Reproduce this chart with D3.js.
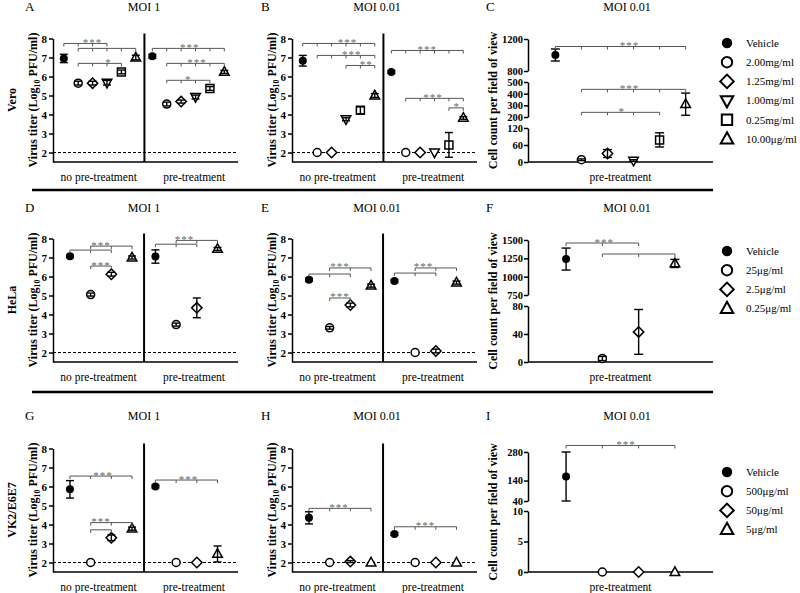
<!DOCTYPE html>
<html><head><meta charset="utf-8">
<script src="https://cdn.jsdelivr.net/npm/d3@7"></script>
<style>body{margin:0;background:#fff}svg{display:block}</style>
</head><body><svg id="c" width="800" height="593"></svg>
<script>
// ================= DATA =================
const rowNames = ["Vero", "HeLa", "VK2/E6E7"];
const panelLetters = ["A","B","C","D","E","F","G","H","I"];
const panelTitles = ["MOI 1","MOI 0.01","MOI 0.01","MOI 1","MOI 0.01","MOI 0.01","MOI 1","MOI 0.01","MOI 0.01"];
const treatments = ["no pre-treatment", "pre-treatment"];
const titerTicks = [2,3,4,5,6,7,8];

const veroLegend = ["Vehicle","2.00mg/ml","1.25mg/ml","1.00mg/ml","0.25mg/ml","10.00\u03bcg/ml"];
const helaLegend = ["Vehicle","25\u03bcg/ml","2.5\u03bcg/ml","0.25\u03bcg/ml"];
const vk2Legend  = ["Vehicle","500\u03bcg/ml","50\u03bcg/ml","5\u03bcg/ml"];
const sixShapes  = ["filled","circle","diamond","triDown","square","triUp"];
const fourShapes = ["filled","circle","diamond","triUp"];

// Panel A (Vero, MOI 1)
const aNoPreMean = [6.95, 5.65, 5.65, 5.67, 6.24, 7.00];
const aNoPreErr  = [0.22, 0.10, 0.10, 0.12, 0.10, 0.12];
const aPreMean   = [7.06, 4.55, 4.68, 4.92, 5.37, 6.24];
const aPreErr    = [0.10, 0.10, 0.08, 0.10, 0.10, 0.08];
// Panel B (Vero, MOI 0.01)
const bNoPreMean = [6.83, 2.00, 2.00, 3.75, 4.22, 5.00];
const bNoPreErr  = [0.28, 0, 0, 0.08, 0.18, 0.10];
const bPreMean   = [6.24, 2.00, 2.00, 2.00, 2.40, 3.82];
const bPreErr    = [0.07, 0, 0, 0, 0.65, 0.07];
// Panel C (Vero, cell count)
const cMean = [1000, 8, 30, 5, 78, 310];
const cErr  = [75, 3, 14, 3, 25, 95];
const cTicksLow = [0, 60, 120];
const cTicksMid = [200, 300, 400, 500];
const cTicksHigh = [800, 1200];
// Panel D (HeLa, MOI 1)
const dNoPreMean = [7.07, 5.05, 6.12, 7.00];
const dNoPreErr  = [0.08, 0.08, 0.10, 0.08];
const dPreMean   = [7.05, 3.47, 4.35, 7.45];
const dPreErr    = [0.35, 0.08, 0.52, 0.08];
// Panel E (HeLa, MOI 0.01)
const eNoPreMean = [5.83, 3.30, 4.50, 5.52];
const eNoPreErr  = [0.08, 0.07, 0.10, 0.08];
const ePreMean   = [5.76, 2.00, 2.08, 5.68];
const ePreErr    = [0.07, 0, 0.10, 0.08];
// Panel F (HeLa, cell count)
const fMean = [1240, 5, 43, 1180];
const fErr  = [150, 3, 32, 55];
const fTicksLow = [0, 40, 80];
const fTicksHigh = [750, 1000, 1250, 1500];
// Panel G (VK2/E6E7, MOI 1)
const gNoPreMean = [5.85, 2.00, 3.30, 3.78];
const gNoPreErr  = [0.46, 0, 0.15, 0.08];
const gPreMean   = [6.00, 2.00, 2.00, 2.45];
const gPreErr    = [0.07, 0, 0, 0.42];
// Panel H (VK2/E6E7, MOI 0.01)
const hNoPreMean = [4.35, 2.00, 2.05, 2.00];
const hNoPreErr  = [0.32, 0, 0.05, 0];
const hPreMean   = [3.50, 2.00, 2.00, 2.00];
const hPreErr    = [0.07, 0, 0, 0];
// Panel I (VK2/E6E7, cell count)
const iMean = [160, 0, 0, 0];
const iErr  = [120, 0, 0, 0];
const iTicksLow = [0, 5, 10];
const iTicksHigh = [40, 140, 280];

// significance brackets: [side(0 no-pre,1 pre), fromGroup, toGroup, level, label, labelGroup]
const aBrackets = [[0,0,3,7.74,"***",2],[0,1,5,7.48,"",0],[0,1,4,6.69,"*",3.1],
                   [1,0,5,7.48,"***",2.6],[1,1,5,6.69,"***",3.1],[1,1,4,5.8,"*",2.5]];
const bBrackets = [[0,0,5,7.74,"***",3.1],[0,1,5,7.11,"***",3.4],[0,3,5,6.58,"**",4.4],
                   [1,0,5,7.37,"***",2.5],[1,1,5,4.85,"***",2.9],[1,4,5,4.35,"*",4.55]];
const dBrackets = [[0,0,2,7.39,"",0],[0,1,3,7.6,"***",1.5],[0,1,2,6.55,"***",1.5],
                   [1,0,2,7.7,"",0],[1,1,3,7.9,"***",1.4]];
const eBrackets = [[0,0,2,6.13,"",0],[0,1,3,6.45,"***",1.5],[0,1,2,4.87,"***",1.5],
                   [1,0,2,6.18,"",0],[1,1,3,6.45,"***",1.4]];
const gBrackets = [[0,0,3,6.55,"***",1.6],[0,1,3,4.1,"***",1.5],[0,1,2,3.72,"",0],
                   [1,0,3,6.34,"***",1.6]];
const hBrackets = [[0,0,3,4.85,"***",1.45],[1,0,3,3.88,"***",1.5]];
const cBrackets = [[0,5,1106,"***",2.85],[1,5,437,"***",2.85],[1,4,240,"*",2.55]];
const fBrackets = [[0,2,1459,"***",1.05],[1,3,1309,"",0]];
const iBrackets = [[0,3,312,"***",1.65]];

// ================= DRAWING =================
const FONT = "'Liberation Serif','Times New Roman',Times,serif";
const svg = d3.select("#c");
const W = 185;
const rowBottom = [162, 362, 572];
const colX0 = [53, 292, 528];
const BR = "#555";

function marker(g, shape, x, y, s, sw) {
  if (shape === "filled") {
    g.append("circle").attr("cx", x).attr("cy", y).attr("r", s).attr("fill", "#000");
    return;
  }
  if (shape === "circle") {
    g.append("circle").attr("cx", x).attr("cy", y).attr("r", s)
      .attr("fill", "#fff").attr("stroke", "#000").attr("stroke-width", sw);
    return;
  }
  let pts;
  if (shape === "diamond") pts = [[0,-1.3],[1.3,0],[0,1.3],[-1.3,0]];
  else if (shape === "triUp") pts = [[0,-1.3],[1.2,0.85],[-1.2,0.85]];
  else if (shape === "triDown") pts = [[0,1.3],[1.2,-0.85],[-1.2,-0.85]];
  else pts = [[-1,-1],[1,-1],[1,1],[-1,1]];
  g.append("path")
    .attr("d", "M" + pts.map(p => [x + p[0]*s, y + p[1]*s].join(",")).join("L") + "Z")
    .attr("fill", "#fff").attr("stroke", "#000").attr("stroke-width", sw);
}

function errBar(g, x, yTop, yBot, cap) {
  if (Math.abs(yBot - yTop) < 0.8) return;
  const l = (x1,y1,x2,y2) => g.append("line").attr("x1",x1).attr("y1",y1).attr("x2",x2).attr("y2",y2)
    .attr("stroke", "#000").attr("stroke-width", 1.4);
  l(x, yTop, x, yBot);
  l(x - cap/2, yTop, x + cap/2, yTop);
  l(x - cap/2, yBot, x + cap/2, yBot);
}

function bracket(g, xs, y, label, lx) {
  g.append("line").attr("x1", xs[0]).attr("x2", xs[xs.length-1]).attr("y1", y).attr("y2", y)
    .attr("stroke", BR).attr("stroke-width", 1);
  xs.forEach(xx => g.append("line").attr("x1", xx).attr("x2", xx).attr("y1", y).attr("y2", y + 3)
    .attr("stroke", BR).attr("stroke-width", 1));
  if (label) g.append("text").attr("x", lx).attr("y", y + 2.5).attr("text-anchor", "middle")
    .attr("font-family", FONT).attr("font-size", 11).attr("letter-spacing", 1).attr("fill", "#666").text(label);
}

function styleAxis(sel, fs) {
  sel.attr("font-family", FONT);
  sel.select(".domain").attr("stroke", "#000").attr("stroke-width", 1.5);
  sel.selectAll(".tick line").attr("stroke", "#000").attr("stroke-width", 1.5);
  sel.selectAll(".tick text").attr("font-family", FONT).attr("font-size", fs)
    .attr("font-weight", "bold").attr("fill", "#000");
}

function yTitle(g, x, y, parts, size) {
  const t = g.append("text").attr("transform", `translate(${x},${y}) rotate(-90)`)
    .attr("text-anchor", "middle").attr("font-family", FONT).attr("font-weight", "bold")
    .attr("font-size", size).attr("fill", "#000");
  parts.forEach(p => {
    const ts = t.append("tspan").text(p.t);
    if (p.sub) ts.attr("font-size", size * 0.65).attr("dy", 3);
    if (p.back) ts.attr("dy", -3);
  });
}

function titerPanel(x0, bottom, shapes, noPreMean, noPreErr, preMean, preErr, brackets) {
  const six = shapes.length === 6;
  const dom = six ? [-0.75, 12.1] : [-0.82, 8.12];
  const preOff = six ? 6.15 : 4.13;
  const divPos = six ? 5.6 : 3.58;
  const x = d3.scaleLinear().domain(dom).range([x0, x0 + W]);
  const y = d3.scaleLinear().domain([1.5, 8]).range([bottom, bottom - 123.5]);
  const g = svg.append("g");

  const ax = g.append("g").attr("transform", `translate(${x0},0)`)
    .call(d3.axisLeft(y).tickValues(titerTicks).tickSize(4).tickSizeOuter(0).tickPadding(2).tickFormat(d3.format("d")));
  styleAxis(ax, 11);
  g.append("line").attr("x1", x0).attr("x2", x0 + W).attr("y1", bottom).attr("y2", bottom)
    .attr("stroke", "#000").attr("stroke-width", 1.5);
  const xd = x(divPos);
  g.append("line").attr("x1", xd).attr("x2", xd).attr("y1", bottom).attr("y2", y(8) - 5)
    .attr("stroke", "#000").attr("stroke-width", 2);
  g.append("line").attr("x1", x0).attr("x2", x0 + W).attr("y1", y(2)).attr("y2", y(2))
    .attr("stroke", "#000").attr("stroke-width", 1.2).attr("stroke-dasharray", "3,2");

  g.append("text").attr("x", (x0 + xd) / 2).attr("y", bottom + 18.5).attr("text-anchor", "middle")
    .attr("font-family", FONT).attr("font-size", 11.5).text(treatments[0]);
  g.append("text").attr("x", (xd + x0 + W) / 2 + 3).attr("y", bottom + 18.5).attr("text-anchor", "middle")
    .attr("font-family", FONT).attr("font-size", 11.5).text(treatments[1]);

  const sides = [[noPreMean, noPreErr, 0], [preMean, preErr, preOff]];
  sides.forEach(([m, e, off]) => {
    m.forEach((v, i) => {
      const px = x(off + i), py = y(v);
      marker(g, shapes[i], px, py, 4, 1.5);
      errBar(g, px, y(v + e[i]), y(v - e[i]), 8);
    });
  });

  brackets.forEach(([side, a, b, lev, lab, lp]) => {
    const off = side ? preOff : 0;
    const xs = d3.range(a, b + 1).map(i => x(off + i));
    bracket(g, xs, y(lev), lab, x(off + lp));
  });
  yTitle(g, x0 - 16, bottom - 62, [{t: "Virus titer (Log"}, {t: "10", sub: true}, {t: " PFU/ml)", back: true}], 12);
}

function cellPanel(x0, bottom, shapes, mean, err, segs, brackets) {
  const g = svg.append("g");
  const n = shapes.length;
  const xp = d3.scalePoint().domain(d3.range(n)).range([x0, x0 + W]).padding(1.05);
  const xf = k => xp(0) + k * xp.step();
  const scales = segs.map(s => d3.scaleLinear().domain(s.domain).range(s.range));
  const seg = v => {
    for (let k = 0; k < segs.length; k++)
      if (v >= segs[k].domain[0] && v <= segs[k].domain[1]) return scales[k];
    return v > segs[segs.length - 1].domain[1] ? scales[scales.length - 1] : scales[0];
  };
  segs.forEach((s, k) => {
    const ax = g.append("g").attr("transform", `translate(${x0},0)`)
      .call(d3.axisLeft(scales[k]).tickValues(s.ticks).tickSize(4).tickSizeOuter(0).tickPadding(1).tickFormat(d3.format("d")));
    styleAxis(ax, 10.5);
  });
  g.append("line").attr("x1", x0).attr("x2", x0 + W).attr("y1", bottom).attr("y2", bottom)
    .attr("stroke", "#000").attr("stroke-width", 1.5);
  g.append("text").attr("x", x0 + W / 2).attr("y", bottom + 18.5).attr("text-anchor", "middle")
    .attr("font-family", FONT).attr("font-size", 11.5).text(treatments[1]);
  mean.forEach((v, i) => {
    const s = seg(v);
    const px = xp(i), py = s(v);
    marker(g, shapes[i], px, py, 4, 1.5);
    errBar(g, px, s(v + err[i]), s(Math.max(segs[0].domain[0], v - err[i])), 9);
  });
  brackets.forEach(([a, b, lev, lab, lp]) => {
    const xs = d3.range(a, b + 1).map(i => xp(i));
    bracket(g, xs, seg(lev)(lev), lab, xf(lp));
  });
  const top = segs[segs.length - 1].range[1];
  yTitle(g, x0 - 31, (top + bottom) / 2, [{t: "Cell count per field of view"}], 12);
}

function legend(y0, names, shapes) {
  const g = svg.append("g");
  names.forEach((nm, i) => {
    const yy = y0 + i * 19.2;
    marker(g, shapes[i], 727, yy, 5.2, 2);
    g.append("text").attr("x", 746).attr("y", yy).attr("dy", "0.35em")
      .attr("font-family", FONT).attr("font-size", 11).text(nm);
  });
}

// panel letters & titles
const letterX = [25, 261, 486];
const titleX = [144, 377, 627];
const headY = [11, 212, 420];
panelLetters.forEach((L, k) => {
  const r = Math.floor(k / 3), c = k % 3;
  svg.append("text").attr("x", letterX[c]).attr("y", headY[r]).attr("font-family", FONT)
    .attr("font-size", 13).text(L);
  svg.append("text").attr("x", titleX[c]).attr("y", headY[r]).attr("text-anchor", "middle")
    .attr("font-family", FONT).attr("font-size", 12).text(panelTitles[k]);
});
// row labels
const rowMid = [100, 300, 510];
rowNames.forEach((nm, r) => {
  svg.append("text").attr("transform", `translate(16,${rowMid[r]}) rotate(-90)`)
    .attr("text-anchor", "middle").attr("font-family", FONT).attr("font-weight", "bold")
    .attr("font-size", 12).text(nm);
});
// row separators
[190, 392].forEach(yy => svg.append("line").attr("x1", 32).attr("x2", 713).attr("y1", yy).attr("y2", yy)
  .attr("stroke", "#000").attr("stroke-width", 2.5));

titerPanel(colX0[0], rowBottom[0], sixShapes, aNoPreMean, aNoPreErr, aPreMean, aPreErr, aBrackets);
titerPanel(colX0[1], rowBottom[0], sixShapes, bNoPreMean, bNoPreErr, bPreMean, bPreErr, bBrackets);
cellPanel(colX0[2], rowBottom[0], sixShapes, cMean, cErr, [
  {domain: [0, 120], range: [162, 128], ticks: cTicksLow},
  {domain: [200, 500], range: [117, 82], ticks: cTicksMid},
  {domain: [800, 1200], range: [71, 39], ticks: cTicksHigh}], cBrackets);
legend(43, veroLegend, sixShapes);

titerPanel(colX0[0], rowBottom[1], fourShapes, dNoPreMean, dNoPreErr, dPreMean, dPreErr, dBrackets);
titerPanel(colX0[1], rowBottom[1], fourShapes, eNoPreMean, eNoPreErr, ePreMean, ePreErr, eBrackets);
cellPanel(colX0[2], rowBottom[1], fourShapes, fMean, fErr, [
  {domain: [0, 80], range: [362, 306], ticks: fTicksLow},
  {domain: [750, 1500], range: [295, 240], ticks: fTicksHigh}], fBrackets);
legend(251, helaLegend, fourShapes);

titerPanel(colX0[0], rowBottom[2], fourShapes, gNoPreMean, gNoPreErr, gPreMean, gPreErr, gBrackets);
titerPanel(colX0[1], rowBottom[2], fourShapes, hNoPreMean, hNoPreErr, hPreMean, hPreErr, hBrackets);
cellPanel(colX0[2], rowBottom[2], fourShapes, iMean, iErr, [
  {domain: [0, 10], range: [572, 511], ticks: iTicksLow},
  {domain: [40, 280], range: [501, 452], ticks: iTicksHigh}], iBrackets);
legend(472, vk2Legend, fourShapes);
</script></body></html>
